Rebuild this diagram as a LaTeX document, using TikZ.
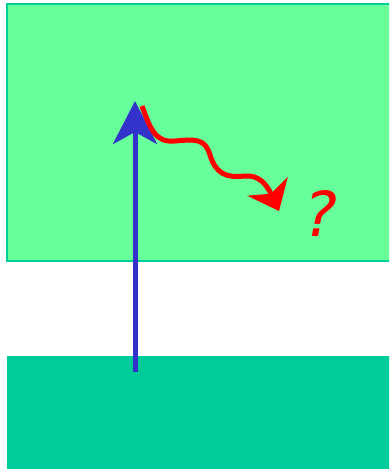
\documentclass[tikz,border=0pt]{standalone}
\usepackage{fontspec}
\newfontfamily\qfont{DejaVu Sans}
\usetikzlibrary{arrows.meta}
\definecolor{lightgreen}{HTML}{66FF99}
\definecolor{seagreen}{HTML}{00CC99}
\definecolor{rayblue}{HTML}{3333CC}

\begin{document}
\begin{tikzpicture}[
    x=1pt, y=-1pt,
    upper layer/.style={fill=lightgreen, draw=seagreen, line width=1.5pt},
    lower layer/.style={fill=seagreen},
    in ray/.style={draw=rayblue, line width=5pt, -{Stealth[length=43pt, width=44pt, inset=12pt, fill=rayblue]}},
    out ray/.style={draw=red, line width=5pt, -{Stealth[length=27pt, width=44pt, inset=8pt, fill=red]}},
    mark text/.style={text=red, font=\qfont\itshape\fontsize{62}{62}\selectfont, inner sep=0pt}
]
\useasboundingbox (0,0) rectangle (389,469);
\clip (0,0) rectangle (389,469);

% two layers
\path[upper layer] (7,4) rectangle (395,261);
\path[lower layer] (7,356) rectangle (395,475);

% incoming ray
\coordinate (src)  at (135,372);
\coordinate (hit)  at (135,101);
\draw[in ray] (src) -- (hit);

% scattered ray
\coordinate (kick) at (142,106);
\coordinate (land) at (279,211);
\draw[out ray] (kick) .. controls (150,128) and (155,143) .. (175,141)
    .. controls (197,139) and (205,139) .. (210,155)
    .. controls (216,174) and (226,178) .. (245,176)
    .. controls (258,175) and (266,183) .. (land);

\node[mark text] (what) at (321,213) {?};

\end{tikzpicture}
\end{document}
